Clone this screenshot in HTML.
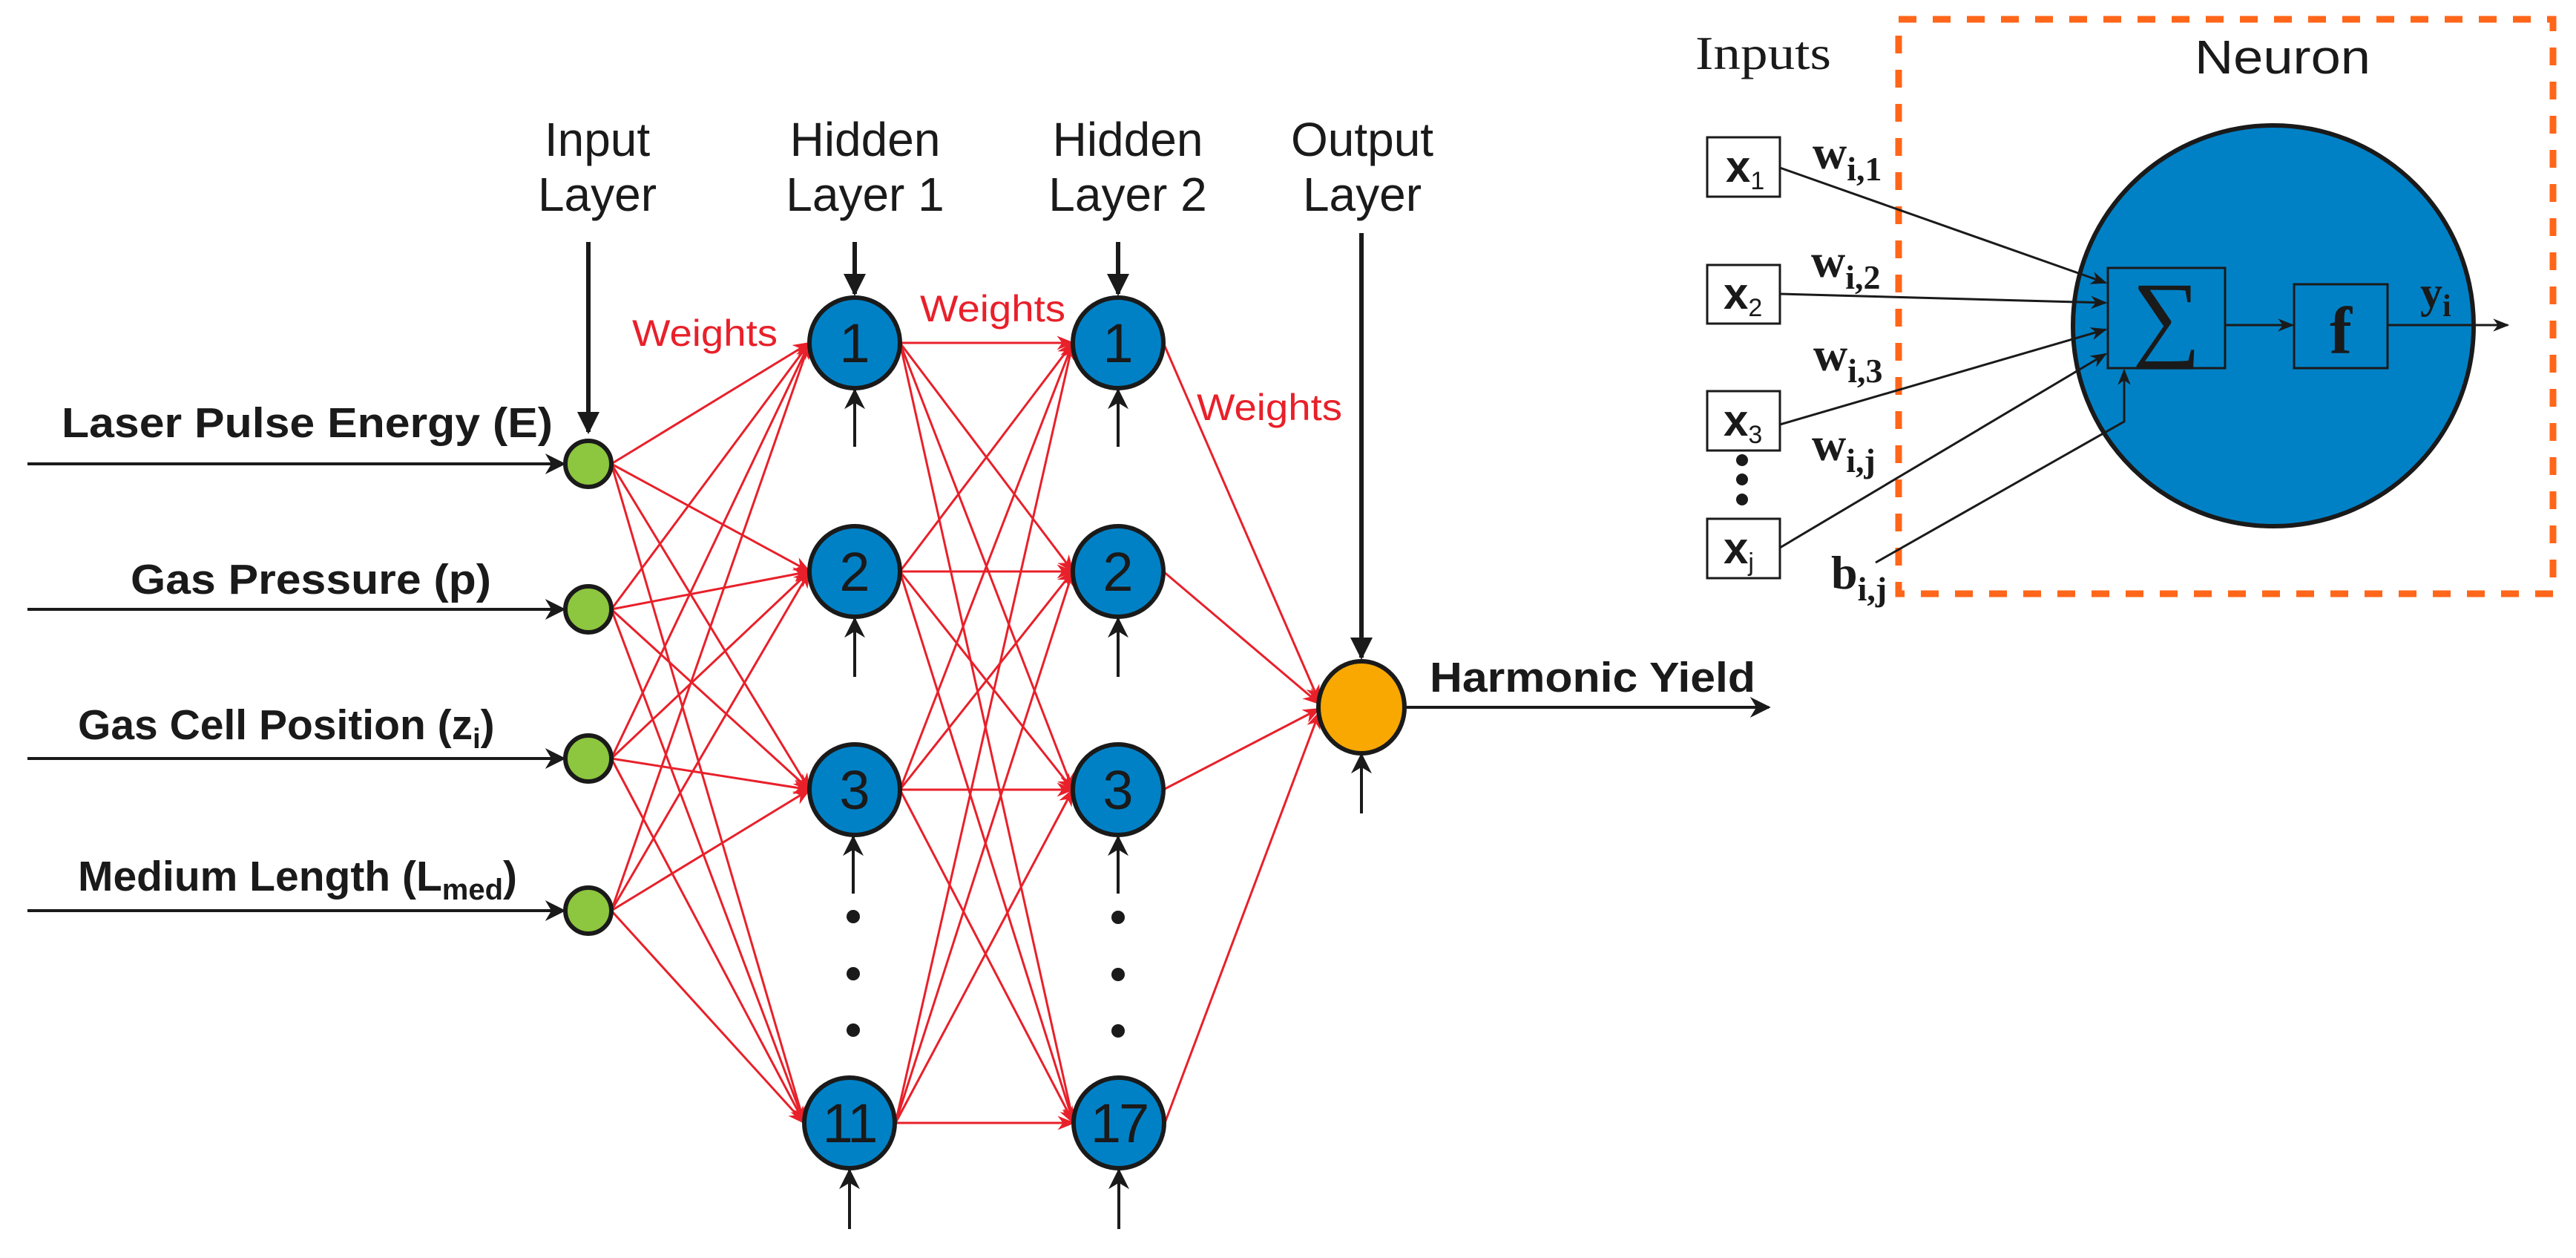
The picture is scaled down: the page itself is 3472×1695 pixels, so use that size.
<!DOCTYPE html>
<html><head><meta charset="utf-8"><style>html,body{margin:0;padding:0;background:#fff}svg{display:block}</style></head>
<body>
<svg xmlns="http://www.w3.org/2000/svg" width="3472" height="1695" viewBox="0 0 3472 1695">
<defs>
<marker id="ab" viewBox="0 0 10 10" refX="9" refY="5" markerWidth="22" markerHeight="22" markerUnits="userSpaceOnUse" orient="auto"><path d="M0,1 L10,5 L0,9 L3,5 z" fill="#1a1a1a"/></marker>
<marker id="abs" viewBox="0 0 10 10" refX="9" refY="5" markerWidth="7" markerHeight="7" orient="auto"><path d="M0,0 L10,5 L0,10 L3,5 z" fill="#1a1a1a"/></marker>
<marker id="abig" viewBox="0 0 10 10" refX="9" refY="5" markerWidth="5" markerHeight="5" orient="auto"><path d="M0,0 L10,5 L0,10 z" fill="#1a1a1a"/></marker>
<marker id="ar" viewBox="0 0 10 10" refX="9" refY="5" markerWidth="8" markerHeight="8" orient="auto"><path d="M0,1 L10,5 L0,9 L3,5 z" fill="#e8202a"/></marker>
</defs>
<g font-family="Liberation Sans, Arial, sans-serif" fill="#1a1a1a">
<g font-size="64" text-anchor="middle">
<text x="805" y="210">Input</text><text x="805" y="284">Layer</text>
<text x="1166" y="210">Hidden</text><text x="1166" y="284">Layer 1</text>
<text x="1520" y="210">Hidden</text><text x="1520" y="284">Layer 2</text>
<text x="1836" y="210">Output</text><text x="1836" y="284">Layer</text>
</g>
<g font-size="57" font-weight="bold">
<text x="83" y="589" textLength="662" lengthAdjust="spacingAndGlyphs">Laser Pulse Energy (E)</text>
<text x="176" y="800" textLength="486" lengthAdjust="spacingAndGlyphs">Gas Pressure (p)</text>
<text x="105" y="996">Gas Cell Position (z<tspan font-size="38" dy="12">i</tspan><tspan dy="-12">)</tspan></text>
<text x="105" y="1200">Medium Length (L<tspan font-size="40" dy="12">med</tspan><tspan dy="-12">)</tspan></text>
<text x="1927" y="932" textLength="439" lengthAdjust="spacingAndGlyphs">Harmonic Yield</text>
</g>
<g font-size="50" fill="#e8202a">
<text x="852" y="466" textLength="196" lengthAdjust="spacingAndGlyphs">Weights</text>
<text x="1240" y="433" textLength="196" lengthAdjust="spacingAndGlyphs">Weights</text>
<text x="1613" y="566" textLength="196" lengthAdjust="spacingAndGlyphs">Weights</text>
</g>
</g>
<g stroke="#1a1a1a" stroke-width="4" fill="none">
<line x1="37" y1="625" x2="760" y2="625" marker-end="url(#abs)"/>
<line x1="37" y1="821" x2="760" y2="821" marker-end="url(#abs)"/>
<line x1="37" y1="1022" x2="760" y2="1022" marker-end="url(#abs)"/>
<line x1="37" y1="1227" x2="760" y2="1227" marker-end="url(#abs)"/>
<line x1="1893" y1="953" x2="2384" y2="953" marker-end="url(#abs)"/>
</g>
<g stroke="#1a1a1a" stroke-width="6" fill="none">
<line x1="793" y1="326" x2="793" y2="582" marker-end="url(#abig)"/>
<line x1="1152" y1="326" x2="1152" y2="396" marker-end="url(#abig)"/>
<line x1="1507" y1="326" x2="1507" y2="396" marker-end="url(#abig)"/>
<line x1="1835" y1="314" x2="1835" y2="886" marker-end="url(#abig)"/>
</g>
<g stroke="#1a1a1a" stroke-width="4" fill="none">
<line x1="1152" y1="602" x2="1152" y2="526" marker-end="url(#abs)"/>
<line x1="1507" y1="602" x2="1507" y2="526" marker-end="url(#abs)"/>
<line x1="1152" y1="912" x2="1152" y2="834" marker-end="url(#abs)"/>
<line x1="1507" y1="912" x2="1507" y2="834" marker-end="url(#abs)"/>
<line x1="1150" y1="1204" x2="1150" y2="1128" marker-end="url(#abs)"/>
<line x1="1507" y1="1204" x2="1507" y2="1128" marker-end="url(#abs)"/>
<line x1="1145" y1="1656" x2="1145" y2="1577" marker-end="url(#abs)"/>
<line x1="1508" y1="1656" x2="1508" y2="1577" marker-end="url(#abs)"/>
<line x1="1835" y1="1096" x2="1835" y2="1017" marker-end="url(#abs)"/>
</g>
<g fill="#1a1a1a">
<circle cx="1150" cy="1235" r="9"/><circle cx="1150" cy="1312" r="9"/><circle cx="1150" cy="1388" r="9"/>
<circle cx="1507" cy="1236" r="9"/><circle cx="1507" cy="1313" r="9"/><circle cx="1507" cy="1389" r="9"/>
</g>
<g stroke="#e8202a" stroke-width="3" fill="none" marker-end="url(#ar)">
<line x1="824" y1="625" x2="1091" y2="462"/><line x1="824" y1="625" x2="1091" y2="770"/><line x1="824" y1="625" x2="1091" y2="1064"/><line x1="824" y1="625" x2="1084" y2="1513"/>
<line x1="824" y1="821" x2="1091" y2="462"/><line x1="824" y1="821" x2="1091" y2="770"/><line x1="824" y1="821" x2="1091" y2="1064"/><line x1="824" y1="821" x2="1084" y2="1513"/>
<line x1="824" y1="1022" x2="1091" y2="462"/><line x1="824" y1="1022" x2="1091" y2="770"/><line x1="824" y1="1022" x2="1091" y2="1064"/><line x1="824" y1="1022" x2="1084" y2="1513"/>
<line x1="824" y1="1227" x2="1091" y2="462"/><line x1="824" y1="1227" x2="1091" y2="770"/><line x1="824" y1="1227" x2="1091" y2="1064"/><line x1="824" y1="1227" x2="1084" y2="1513"/>
<line x1="1213" y1="462" x2="1446" y2="462"/><line x1="1213" y1="462" x2="1446" y2="770"/><line x1="1213" y1="462" x2="1446" y2="1064"/><line x1="1213" y1="462" x2="1447" y2="1513"/>
<line x1="1213" y1="770" x2="1446" y2="462"/><line x1="1213" y1="770" x2="1446" y2="770"/><line x1="1213" y1="770" x2="1446" y2="1064"/><line x1="1213" y1="770" x2="1447" y2="1513"/>
<line x1="1213" y1="1064" x2="1446" y2="462"/><line x1="1213" y1="1064" x2="1446" y2="770"/><line x1="1213" y1="1064" x2="1446" y2="1064"/><line x1="1213" y1="1064" x2="1447" y2="1513"/>
<line x1="1207" y1="1513" x2="1446" y2="462"/><line x1="1207" y1="1513" x2="1446" y2="770"/><line x1="1207" y1="1513" x2="1446" y2="1064"/><line x1="1207" y1="1513" x2="1447" y2="1513"/>
<line x1="1568" y1="462" x2="1778" y2="945"/><line x1="1568" y1="770" x2="1778" y2="948"/><line x1="1568" y1="1064" x2="1778" y2="955"/><line x1="1570" y1="1513" x2="1778" y2="960"/>
</g>
<g stroke="#1a1a1a" stroke-width="6">
<g fill="#8dc63f"><circle cx="793" cy="625" r="31"/><circle cx="793" cy="821" r="31"/><circle cx="793" cy="1022" r="31"/><circle cx="793" cy="1227" r="31"/></g>
<g fill="#0081c6">
<circle cx="1152" cy="462" r="61"/><circle cx="1152" cy="770" r="61"/><circle cx="1152" cy="1064" r="61"/><circle cx="1145" cy="1513" r="61"/>
<circle cx="1507" cy="462" r="61"/><circle cx="1507" cy="770" r="61"/><circle cx="1507" cy="1064" r="61"/><circle cx="1508" cy="1513" r="61"/>
</g>
<ellipse cx="1835" cy="953" rx="58" ry="62" fill="#f8a800"/>
</g>
<g font-family="Liberation Sans, Arial, sans-serif" font-size="74" fill="#1a1a1a" text-anchor="middle">
<text x="1152" y="488">1</text><text x="1152" y="796">2</text><text x="1152" y="1090">3</text><text x="1145" y="1539" letter-spacing="-2">11</text>
<text x="1507" y="488">1</text><text x="1507" y="796">2</text><text x="1507" y="1090">3</text><text x="1508" y="1539" letter-spacing="-3">17</text>
</g>

<rect x="2559" y="26" width="882" height="774" fill="none" stroke="#ff6619" stroke-width="9" stroke-dasharray="24,22"/>
<text x="2285" y="93" font-family="Liberation Serif, serif" font-size="64" fill="#1a1a1a" textLength="183" lengthAdjust="spacingAndGlyphs">Inputs</text>
<text x="2958" y="99" font-family="Liberation Sans, sans-serif" font-size="64" fill="#1a1a1a" textLength="237" lengthAdjust="spacingAndGlyphs">Neuron</text>
<circle cx="3064" cy="439" r="270" fill="#0081c6" stroke="#1a1a1a" stroke-width="6"/>
<g fill="none" stroke="#1a1a1a" stroke-width="3">
<rect x="2841" y="361" width="158" height="135"/>
<rect x="3092" y="383" width="126" height="113"/>
<g fill="#fff"><rect x="2301" y="185" width="98" height="80"/><rect x="2301" y="357" width="98" height="79"/><rect x="2301" y="527" width="98" height="80"/><rect x="2301" y="699" width="98" height="80"/></g>
</g>
<g stroke="#1a1a1a" stroke-width="3" fill="none">
<line x1="2399" y1="226" x2="2838" y2="381" marker-end="url(#ab)"/>
<line x1="2399" y1="396" x2="2838" y2="408" marker-end="url(#ab)"/>
<line x1="2399" y1="572" x2="2838" y2="444" marker-end="url(#ab)"/>
<line x1="2399" y1="738" x2="2838" y2="477" marker-end="url(#ab)"/>
<polyline points="2528,758 2863,568 2863,499" marker-end="url(#ab)"/>
<line x1="2999" y1="438" x2="3090" y2="438" marker-end="url(#ab)"/>
<line x1="3218" y1="438" x2="3380" y2="438" marker-end="url(#ab)"/>
</g>
<g fill="#1a1a1a"><circle cx="2348" cy="620" r="8"/><circle cx="2348" cy="646" r="8"/><circle cx="2348" cy="673" r="8"/></g>
<g font-family="Liberation Sans, sans-serif" font-weight="bold" font-size="60" fill="#1a1a1a">
<text x="2326" y="245">x<tspan font-size="34" font-weight="normal" dy="10">1</tspan></text>
<text x="2323" y="416">x<tspan font-size="34" font-weight="normal" dy="10">2</tspan></text>
<text x="2323" y="587">x<tspan font-size="34" font-weight="normal" dy="10">3</tspan></text>
<text x="2323" y="759">x<tspan font-size="34" font-weight="normal" dy="10">j</tspan></text>
</g>
<g font-family="Liberation Serif, serif" font-weight="bold" fill="#1a1a1a">
<text x="2443" y="227" font-size="64">w<tspan font-size="46" dy="16">i,1</tspan></text>
<text x="2441" y="373" font-size="64">w<tspan font-size="46" dy="16">i,2</tspan></text>
<text x="2444" y="499" font-size="64">w<tspan font-size="46" dy="16">i,3</tspan></text>
<text x="2442" y="620" font-size="64">w<tspan font-size="46" dy="16">i,j</tspan></text>
<text x="2468" y="793" font-size="64">b<tspan font-size="46" dy="16">i,j</tspan></text>
<text x="3262" y="414" font-size="60">y<tspan font-size="42" dy="12">i</tspan></text>
<text x="3155" y="476" font-size="90" text-anchor="middle">f</text>
</g>
<text x="2920" y="470" font-family="Liberation Serif, serif" font-size="130" fill="#1a1a1a" text-anchor="middle">∑</text>
</svg>
</body></html>
